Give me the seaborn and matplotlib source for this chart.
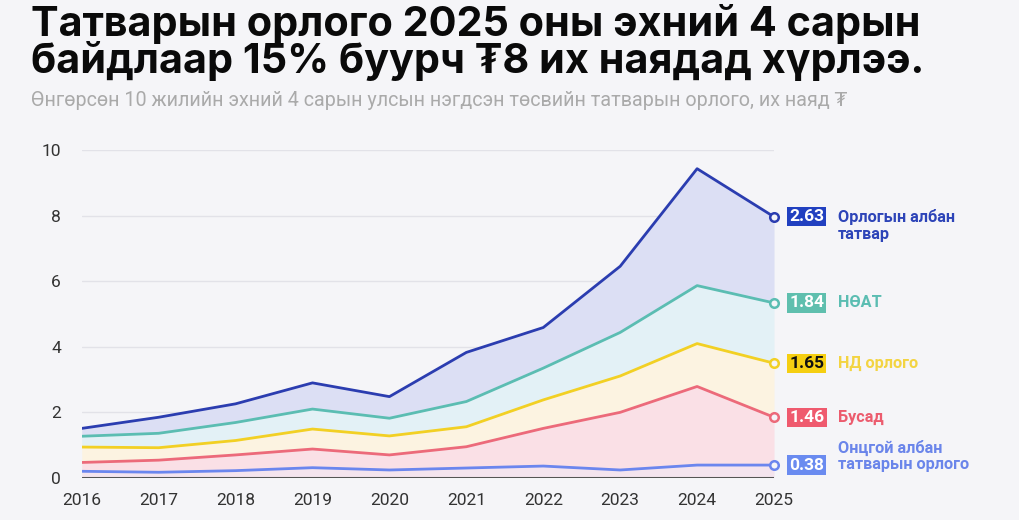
import numpy as np
import pandas as pd
import matplotlib
matplotlib.use("Agg")
import matplotlib.pyplot as plt
import seaborn as sns

# Values (trillion MNT, first 4 months of each year)
years = [2016, 2017, 2018, 2019, 2020, 2021, 2022, 2023, 2024, 2025]
series = ["Онцгой албан татварын орлого", "Бусад", "НД орлого", "НӨАТ", "Орлогын албан татвар"]
oncgoi = [0.19, 0.16, 0.21, 0.30, 0.23, 0.29, 0.35, 0.23, 0.38, 0.38]
busad = [0.27, 0.37, 0.48, 0.57, 0.46, 0.65, 1.15, 1.76, 2.40, 1.46]
nd = [0.47, 0.38, 0.44, 0.61, 0.58, 0.61, 0.87, 1.11, 1.31, 1.65]
noat = [0.33, 0.44, 0.55, 0.61, 0.54, 0.77, 0.97, 1.33, 1.77, 1.84]
oat = [0.24, 0.49, 0.57, 0.80, 0.66, 1.50, 1.24, 2.02, 3.57, 2.63]
label_names = ["Онцгой албан\nтатварын орлого", "Бусад", "НД орлого", "НӨАТ", "Орлогын албан\nтатвар"]

line_colors = ["#6b86ee", "#ec6a7a", "#f2d024", "#5bbdb2", "#2b3db0"]
fill_colors = ["#f4e4ee", "#fae0e6", "#fcf3e1", "#e3f1f6", "#dcdff4"]
box_colors = ["#6a8bf0", "#ef5a6e", "#f5cf12", "#5fbfae", "#2140c0"]
box_text = ["white", "white", "#111111", "white", "white"]
name_colors = ["#6a85ea", "#ec5c6e", "#f3d442", "#5bbdb2", "#2d44b8"]
name_dy = [6.5, 0, 0, 0, -6.5]

bg = "#f5f5f8"

values = [oncgoi, busad, nd, noat, oat]
rows = []
base = np.zeros(len(years))
for name, vals in zip(series, values):
    top = base + np.array(vals)
    for y, b, t, v in zip(years, base, top, vals):
        rows.append({"year": y, "series": name, "bottom": b, "top": t, "value": v})
    base = top
df = pd.DataFrame(rows)

sns.set_theme(style="white")
plt.rcParams["font.family"] = ["Roboto", "DejaVu Sans"]

fig = plt.figure(figsize=(10.19, 5.2), dpi=100, facecolor=bg)
ax = fig.add_axes([0.0802, 0.0817, 0.6794, 0.6298])
ax.set_facecolor(bg)

# stacked bands
for i, name in enumerate(series):
    d = df[df["series"] == name]
    ax.fill_between(d["year"], d["bottom"], d["top"], color=fill_colors[i], lw=0, zorder=1)

sns.lineplot(data=df, x="year", y="top", hue="series", palette=dict(zip(series, line_colors)),
             linewidth=2, legend=False, ax=ax, zorder=3)

# end markers, value boxes and names
last = df[df["year"] == years[-1]]
for i, name in enumerate(series):
    r = last[last["series"] == name].iloc[0]
    ax.scatter([r["year"]], [r["top"]], s=38, facecolor=bg, edgecolor=line_colors[i],
               linewidth=1.8, zorder=5, clip_on=False)
    ax.annotate(f"{r['value']:.2f}", xy=(r["year"], r["top"]), xytext=(11, 0),
                textcoords="offset points", ha="left", va="center", fontsize=12.5,
                fontweight="bold", color=box_text[i], annotation_clip=False,
                bbox=dict(boxstyle="square,pad=0.12", fc=box_colors[i], ec="none"))
    ax.annotate(label_names[i], xy=(r["year"], r["top"]), xytext=(46, name_dy[i]),
                textcoords="offset points", ha="left", va="center", fontsize=11.7,
                fontweight="bold", color=name_colors[i], linespacing=1.15,
                annotation_clip=False)

ax.axhline(0, color="#555555", lw=2.2, zorder=4)
ax.set_xlim(years[0], years[-1])
ax.set_ylim(0, 10)
ax.set_yticks([0, 2, 4, 6, 8, 10])
ax.set_xticks(years)
ax.grid(axis="y", color="#e2e2e8", lw=1)
ax.grid(axis="x", visible=False)
sns.despine(ax=ax, left=True, bottom=True)
ax.tick_params(axis="both", length=0, labelsize=12.5, labelcolor="#333333")
ax.tick_params(axis="x", pad=11)
ax.tick_params(axis="y", pad=15)
ax.set_xlabel("")
ax.set_ylabel("")

fig.text(0.03, 1 - 73 / 520,
         "Татварын орлого 2025 оны эхний 4 сарын\nбайдлаар 15% буурч ₮8 их наядад хүрлээ.",
         fontsize=29.8, fontweight="bold", color="#0a0a0a", va="baseline", ha="left",
         linespacing=0.9, family=["Inter", "DejaVu Sans"])
fig.text(0.03, 1 - 106 / 520,
         "Өнгөрсөн 10 жилийн эхний 4 сарын улсын нэгдсэн төсвийн татварын орлого, их наяд ₮",
         fontsize=14.2, color="#aaaaaa", va="baseline", ha="left")

fig.savefig("out.png", dpi=100, facecolor=bg)
